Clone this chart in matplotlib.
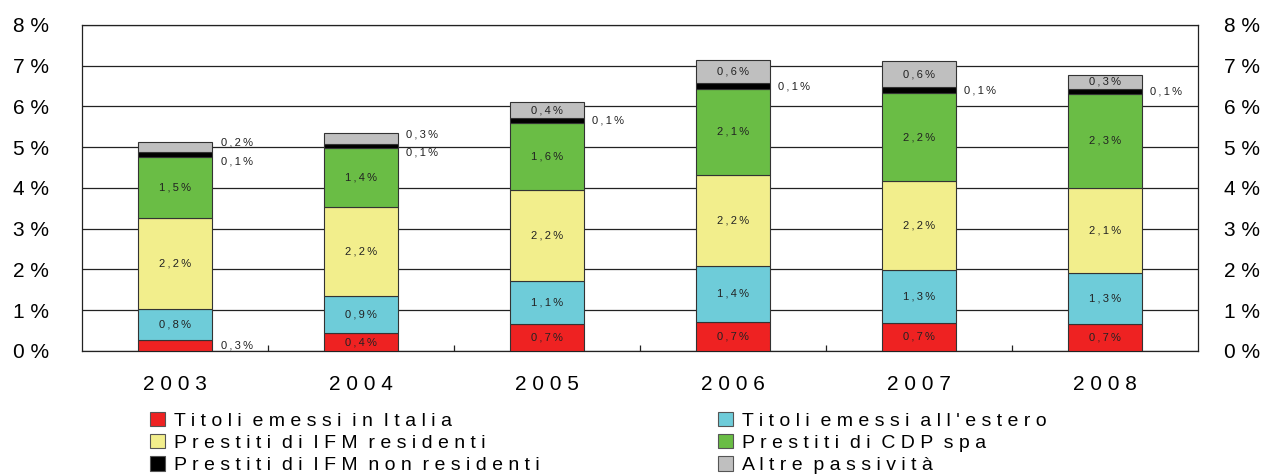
import matplotlib
matplotlib.use("Agg")
import matplotlib.pyplot as plt
import matplotlib.patches as mpatches
import numpy as np
from matplotlib.ticker import FixedLocator

# Data: share of GDP (%)
years = ["2003", "2004", "2005", "2006", "2007", "2008"]
titoli_italia = [0.27, 0.44, 0.66, 0.71, 0.69, 0.66]
titoli_estero = [0.76, 0.91, 1.06, 1.38, 1.30, 1.26]
prestiti_ifm_res = [2.24, 2.18, 2.24, 2.23, 2.18, 2.09]
prestiti_cdp = [1.50, 1.44, 1.64, 2.11, 2.16, 2.29]
prestiti_ifm_nonres = [0.12, 0.12, 0.11, 0.14, 0.14, 0.14]
altre = [0.24, 0.26, 0.39, 0.56, 0.64, 0.34]

series_names = [
    "Titoli emessi in Italia",
    "Titoli emessi all'estero",
    "Prestiti di IFM residenti",
    "Prestiti di CDP spa",
    "Prestiti di IFM non residenti",
    "Altre passività",
]
series_values = [titoli_italia, titoli_estero, prestiti_ifm_res,
                 prestiti_cdp, prestiti_ifm_nonres, altre]
colors = ["#EE2222", "#6ECCD9", "#F2EE8C", "#6ABD45", "#000000", "#BFBFBF"]

FAMILY = ["Liberation Sans", "DejaVu Sans"]
plt.rcParams["font.family"] = FAMILY


def spaced(s, sep=" ", word_sep="  "):
    """Letter-spaced text, like the original chart's typography."""
    return word_sep.join(sep.join(w) for w in s.split(" "))


def fmt(v):
    return "\u2009".join(f"{v:.1f}".replace(".", ",") + "%")


fig = plt.figure(figsize=(12.63, 4.74), dpi=100)
ax = fig.add_axes([0.0649, 0.2595, 0.8836, 0.6878])

x = np.arange(len(years))
width = 0.40
bottom = np.zeros(len(years))
segs = []
for vals, col in zip(series_values, colors):
    vals = np.array(vals)
    ax.bar(x, vals, width, bottom=bottom, color=col,
           edgecolor="#333333", linewidth=0.8, zorder=3)
    segs.append((bottom.copy(), vals))
    bottom = bottom + vals

# segment labels
for s, (bots, vals) in enumerate(segs):
    for i in range(len(years)):
        v = vals[i]
        yc = bots[i] + v / 2
        if v >= 0.3:
            ax.text(x[i], yc, fmt(v), ha="center", va="center",
                    fontsize=8, color="#222222", zorder=4)
        else:
            # small segments labelled to the right of the bar
            dy = 0
            if s == 5:
                dy = 3
            elif s == 4 and altre[i] < 0.3:
                dy = -5
            ax.annotate(fmt(v), (x[i] + width / 2, yc),
                        xytext=(6, dy), textcoords="offset points",
                        ha="left", va="center", fontsize=8,
                        color="#222222", zorder=4)

ax.set_xlim(-0.5, len(years) - 0.5)
ax.set_ylim(0, 8)
yticks = list(range(0, 9))
ytick_labels = [f"{k} %" for k in yticks]
ax.set_yticks(yticks)
ax.set_yticklabels(ytick_labels)
ax.yaxis.grid(True, color="#222222", linewidth=0.9, zorder=0)
ax.set_axisbelow(True)
ax.tick_params(axis="y", length=0, labelsize=15, pad=24)

# right-hand copy of the percentage scale
ax_r = ax.twinx()
ax_r.set_ylim(ax.get_ylim())
ax_r.set_yticks(yticks)
ax_r.set_yticklabels(ytick_labels)
ax_r.tick_params(axis="y", length=0, labelsize=15, pad=19)
for sp in ax_r.spines.values():
    sp.set_visible(False)

ax.set_xticks(x)
ax.set_xticklabels([" ".join(y) for y in years])
ax.tick_params(axis="x", length=0, labelsize=15, pad=17)
ax.xaxis.set_minor_locator(FixedLocator(np.arange(0.5, len(years) - 1, 1)))
ax.tick_params(axis="x", which="minor", direction="in", length=4.5,
               width=0.9, color="#222222")

for sp in ax.spines.values():
    sp.set_color("#222222")
    sp.set_linewidth(0.9)

# legend in two separate columns
handles = [mpatches.Patch(facecolor=c, edgecolor="#555555", linewidth=0.8)
           for c in colors]
labels = [spaced(n) for n in series_names]
leg_kw = dict(loc="upper left", frameon=False, fontsize=14,
              handlelength=0.75, handleheight=0.75, handletextpad=0.5,
              labelspacing=0.22, borderpad=0, borderaxespad=0)
fig.legend([handles[0], handles[2], handles[4]],
           [labels[0], labels[2], labels[4]],
           bbox_to_anchor=(150 / 1263, 1 - 412 / 474), **leg_kw)
fig.legend([handles[1], handles[3], handles[5]],
           [labels[1], labels[3], labels[5]],
           bbox_to_anchor=(718 / 1263, 1 - 412 / 474), **leg_kw)

fig.savefig("out.png", dpi=100)
